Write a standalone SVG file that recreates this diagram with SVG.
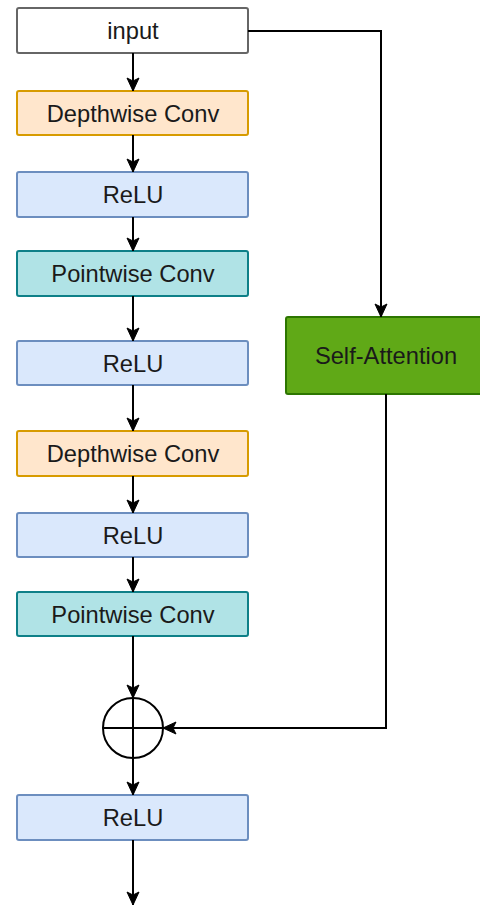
<svg xmlns="http://www.w3.org/2000/svg" width="480" height="907" viewBox="0 0 480 907">
<style>
.box{stroke-width:2}
.in{fill:#ffffff;stroke:#666666}
.dw{fill:#ffe6cc;stroke:#d79b00}
.relu{fill:#dae8fc;stroke:#6c8ebf}
.pw{fill:#b0e3e6;stroke:#0e8088}
.sa{fill:#60a917;stroke:#2d7600}
text{font-family:"Liberation Sans",Arial,sans-serif;font-size:23.7px;text-anchor:middle;fill:#1a1a1a}
.conn path{fill:none;stroke:#000;stroke-width:2}
</style>
<defs>
<marker id="arr" markerUnits="userSpaceOnUse" markerWidth="15" markerHeight="15" viewBox="0 0 15 15" refX="14" refY="7.5" orient="auto">
<path d="M1,1.5 L14,7.5 L1,13.5 L4,7.5 z" fill="#000" stroke="#000" stroke-width="1"/>
</marker>
</defs>
<rect width="480" height="907" fill="#ffffff"/>
<g id="input"><rect class="box in" x="17" y="8" width="231" height="45" rx="2"/><text x="133" y="39">input</text></g>
<g id="dw1"><rect class="box dw" x="17" y="91" width="231" height="44" rx="2"/><text x="133" y="122">Depthwise Conv</text></g>
<g id="relu1"><rect class="box relu" x="17" y="172" width="231" height="45" rx="2"/><text x="133" y="203">ReLU</text></g>
<g id="pw1"><rect class="box pw" x="17" y="251" width="231" height="45" rx="2"/><text x="133" y="282">Pointwise Conv</text></g>
<g id="relu2"><rect class="box relu" x="17" y="341" width="231" height="44" rx="2"/><text x="133" y="372">ReLU</text></g>
<g id="dw2"><rect class="box dw" x="17" y="431" width="231" height="45" rx="2"/><text x="133" y="462">Depthwise Conv</text></g>
<g id="relu3"><rect class="box relu" x="17" y="513" width="231" height="44" rx="2"/><text x="133" y="544">ReLU</text></g>
<g id="pw2"><rect class="box pw" x="17" y="592" width="231" height="44" rx="2"/><text x="133" y="623">Pointwise Conv</text></g>
<g id="relu4"><rect class="box relu" x="17" y="795" width="231" height="45" rx="2"/><text x="133" y="826">ReLU</text></g>
<g id="selfattention"><rect class="box sa" x="286" y="317" width="200" height="77" rx="2"/><text x="386" y="364">Self-Attention</text></g>
<g id="sum"><circle cx="133" cy="728" r="30" fill="#ffffff" stroke="#000" stroke-width="2"/><path d="M103,728 H163 M133,698 V758" stroke="#000" stroke-width="2" fill="none"/></g>
<g class="conn" id="connectors">
<path d="M133,53 V91" marker-end="url(#arr)"/>
<path d="M133,135 V172" marker-end="url(#arr)"/>
<path d="M133,217 V251" marker-end="url(#arr)"/>
<path d="M133,296 V341" marker-end="url(#arr)"/>
<path d="M133,385 V431" marker-end="url(#arr)"/>
<path d="M133,476 V513" marker-end="url(#arr)"/>
<path d="M133,557 V592" marker-end="url(#arr)"/>
<path d="M133,636 V698" marker-end="url(#arr)"/>
<path d="M133,758 V795" marker-end="url(#arr)"/>
<path d="M133,840 V905" marker-end="url(#arr)"/>
<path d="M248,31 H381 V317" marker-end="url(#arr)"/>
<path d="M386,394 V728 H163" marker-end="url(#arr)"/>
</g>
</svg>
